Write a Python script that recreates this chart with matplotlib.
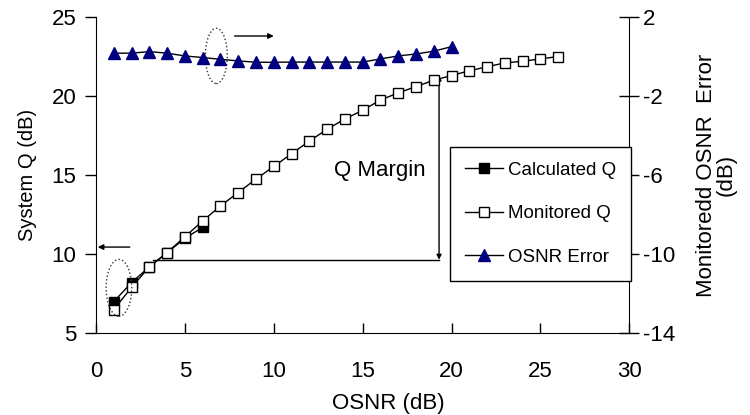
import matplotlib
matplotlib.use("Agg")
import matplotlib.pyplot as plt
from matplotlib.patches import Ellipse

plt.rcParams['font.family'] = ['Liberation Sans', 'DejaVu Sans']

# Data
osnr_calc = [1, 2, 3, 4, 5, 6]
q_calc = [7.0, 8.2, 9.2, 10.1, 11.0, 11.7]

osnr_mon = list(range(1, 27))
q_mon = [6.5, 7.9, 9.2, 10.1, 11.1, 12.1, 13.05, 13.9, 14.75, 15.55,
         16.35, 17.15, 17.9, 18.55, 19.1, 19.75, 20.2, 20.6, 21.0, 21.3,
         21.6, 21.85, 22.1, 22.2, 22.35, 22.5]

osnr_err = list(range(1, 21))
err = [0.17, 0.17, 0.25, 0.17, 0.03, -0.05, -0.14, -0.22, -0.29, -0.29,
       -0.28, -0.28, -0.28, -0.28, -0.28, -0.12, 0.03, 0.13, 0.27, 0.5]

xticks = [0, 5, 10, 15, 20, 25, 30]
yticks_left = [5, 10, 15, 20, 25]
yticks_right = [-14, -10, -6, -2, 2]

fig = plt.figure(figsize=(7.5, 4.15), dpi=100)
ax = fig.add_axes([0.128, 0.197, 0.711, 0.762])
ax2 = ax.twinx()

l1, = ax.plot(osnr_calc, q_calc, color='black', lw=1, marker='s', ms=6.5,
              mfc='black', mec='black', mew=1, zorder=3)
l2, = ax.plot(osnr_mon, q_mon, color='black', lw=1, marker='s', ms=6.5,
              mfc='white', mec='black', mew=1, zorder=4)
l3, = ax2.plot(osnr_err, err, color='black', lw=1, marker='^', ms=8,
               mfc='#000080', mec='#000080', zorder=3)

ax.set_xlim(0, 30)
ax.set_ylim(5, 25)
ax.set_xticks(xticks)
ax.set_yticks(yticks_left)
ax2.set_ylim(-14, 2)
ax2.set_yticks(yticks_right)
ax2.set_yticklabels([str(v) for v in yticks_right])

for a in (ax, ax2):
    a.spines['top'].set_visible(False)
ax.spines['right'].set_visible(False)
ax2.spines['left'].set_visible(False)
ax2.spines['bottom'].set_visible(False)

ax.tick_params(axis='y', direction='out', length=8, width=1, labelsize=16, pad=6)
ax.tick_params(axis='x', direction='in', length=7, width=1, labelsize=16, pad=20)
ax2.tick_params(axis='y', direction='inout', length=14, width=1, labelsize=16, pad=3)

ax.set_xlabel('OSNR (dB)', fontsize=16)
ax.xaxis.set_label_coords(0.548, -0.188)
ax.set_ylabel('System Q (dB)', fontsize=14.5)
ax.yaxis.set_label_coords(-0.11, 0.5)
ax2.set_ylabel('Monitoredd OSNR  Error\n(dB)', fontsize=16, linespacing=0.9)
ax2.yaxis.set_label_coords(1.125, 0.5)

# Annotations
ax.plot([3.2, 19.3], [9.65, 9.65], color='black', lw=1)
ax.annotate('', xy=(19.3, 21.3), xytext=(19.3, 9.65),
            arrowprops=dict(arrowstyle='<|-|>', color='black', lw=1,
                            mutation_scale=7, shrinkA=0, shrinkB=0))
ax.text(13.4, 15.3, 'Q Margin', fontsize=16, va='center', ha='left')
ax.annotate('', xy=(0.1, 10.45), xytext=(1.9, 10.45),
            arrowprops=dict(arrowstyle='-|>', color='black', lw=1,
                            mutation_scale=8, shrinkA=0, shrinkB=0))
ax.annotate('', xy=(10.0, 23.8), xytext=(7.8, 23.8),
            arrowprops=dict(arrowstyle='-|>', color='black', lw=1,
                            mutation_scale=8, shrinkA=0, shrinkB=0))
ax.add_patch(Ellipse((6.77, 22.54), 1.23, 3.5, fill=False, ls=':',
                     lw=1, ec='#333333', zorder=5))
ax.add_patch(Ellipse((1.29, 7.87), 1.44, 3.6, fill=False, ls=':',
                     lw=1, ec='#333333', zorder=5))

leg = ax2.legend([l1, l2, l3], ['Calculated Q', 'Monitored Q', 'OSNR Error'],
                 loc='upper left', bbox_to_anchor=(0.664, 0.59),
                 fontsize=13.5, frameon=True, fancybox=False,
                 edgecolor='black', framealpha=1, labelspacing=1.4,
                 handlelength=2.0, handletextpad=0.3, borderpad=0.8,
                 borderaxespad=0)
leg.get_frame().set_linewidth(1)

fig.savefig('out.png', dpi=100)
